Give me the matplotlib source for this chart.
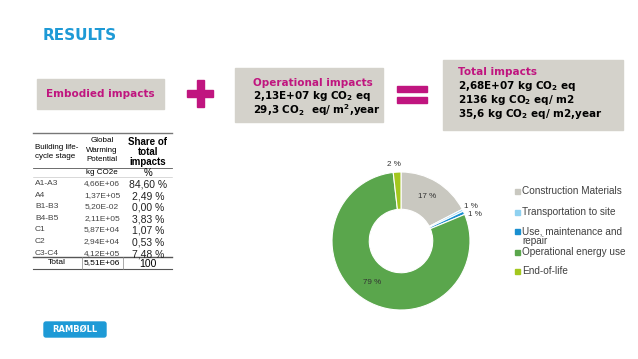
import matplotlib.pyplot as plt
from matplotlib.patches import Rectangle, FancyBboxPatch

# data
slice_names = ["Construction Materials", "Transportation to site",
               "Use, maintenance and\nrepair", "Operational energy use", "End-of-life"]
slice_values = [17.4, 0.5, 0.8, 79.5, 1.8]
slice_labels = ["17 %", "1 %", "1 %", "79 %", "2 %"]
slice_colors = ["#c9c8c0", "#8fd1f0", "#1a8fd0", "#5aa64c", "#a3c71e"]

stages = ["A1-A3", "A4", "B1-B3", "B4-B5", "C1", "C2", "C3-C4"]
gwp = ["4,66E+06", "1,37E+05", "5,20E-02", "2,11E+05", "5,87E+04", "2,94E+04", "4,12E+05"]
share = ["84,60 %", "2,49 %", "0,00 %", "3,83 %", "1,07 %", "0,53 %", "7,48 %"]
total_gwp = "5,51E+06"
total_share = "100"

W, H = 638, 359
MAG = "#c0157f"
BOXC = "#d4d2cb"
BLUE = "#1e9ad6"
tf = ["Liberation Sans", "DejaVu Sans"]

fig = plt.figure(figsize=(W / 100, H / 100), dpi=100)

# donut
cx, cy, r = 401, 241, 69
ax = fig.add_axes([(cx - r) / W, 1 - (cy + r) / H, 2 * r / W, 2 * r / H])
ax.pie(slice_values, colors=slice_colors, startangle=90, counterclock=False,
       wedgeprops=dict(width=0.54, edgecolor="white", linewidth=0.8))
ax.set_xlim(-1, 1)
ax.set_ylim(-1, 1)

bg = fig.add_axes([0, 0, 1, 1])
bg.set_xlim(0, W)
bg.set_ylim(H, 0)
bg.axis("off")

bg.text(43, 35, "RESULTS", color=BLUE, fontsize=11, fontweight="bold", va="center")

# boxes
bg.add_patch(Rectangle((37, 79), 127, 30, color=BOXC))
bg.text(100, 94, "Embodied impacts", color=MAG, fontsize=7.5, fontweight="bold",
        ha="center", va="center")

bx = dict(fontsize=7.5, fontweight="bold", va="center")
bg.add_patch(Rectangle((235, 68), 148, 54, color=BOXC))
bg.text(253, 83, "Operational impacts", color=MAG, **bx)
bg.text(253, 96, r"2,13E+07 kg CO$_\mathbf{2}$ eq", **bx)
bg.text(253, 110, r"29,3 CO$_\mathbf{2}$  eq/ m$^\mathbf{2}$,year", **bx)

bg.add_patch(Rectangle((443, 60), 180, 70, color=BOXC))
bg.text(458, 72, "Total impacts", color=MAG, **bx)
bg.text(458, 86, r"2,68E+07 kg CO$_\mathbf{2}$ eq", **bx)
bg.text(458, 100, r"2136 kg CO$_\mathbf{2}$ eq/ m2", **bx)
bg.text(458, 114, r"35,6 kg CO$_\mathbf{2}$ eq/ m2,year", **bx)

# plus and equals
bg.add_patch(Rectangle((187, 90), 26, 7, color=MAG))
bg.add_patch(Rectangle((196.5, 80), 7, 27, color=MAG))
bg.add_patch(Rectangle((397, 86), 30, 6, color=MAG))
bg.add_patch(Rectangle((397, 97), 30, 6, color=MAG))

# table
bg.plot([33, 172], [133, 133], color="#777777", lw=1)
bg.plot([33, 172], [168, 168], color="#555555", lw=0.6)
bg.plot([33, 172], [177, 177], color="#bbbbbb", lw=0.4)
bg.plot([33, 172], [257, 257], color="#555555", lw=1)
bg.plot([33, 172], [269, 269], color="#555555", lw=0.8)
bg.plot([82, 82], [257, 269], color="#888888", lw=0.5)
bg.plot([123, 123], [257, 269], color="#888888", lw=0.5)
bg.text(35, 152, "Building life-\ncycle stage", family=tf, fontsize=5.8, va="center",
        linespacing=1.5)
bg.text(102, 150, "Global\nWarming\nPotential", family=tf, fontsize=5.8, va="center",
        ha="center", linespacing=1.5)
bg.text(148, 152, "Share of\ntotal\nimpacts", family=tf, fontsize=7, va="center",
        ha="center", fontweight="bold", linespacing=1.05)
bg.text(102, 172, "kg CO2e", family=tf, fontsize=5.8, va="center", ha="center")
bg.text(148, 173, "%", family=tf, fontsize=7, va="center", ha="center")
for i, (s, g, p) in enumerate(zip(stages, gwp, share)):
    y = 183.5 + i * 11.6
    bg.text(35, y, s, family=tf, fontsize=6, va="center", color="#444444")
    bg.text(102, y, g, family=tf, fontsize=6, va="center", ha="center", color="#444444")
    bg.text(148, y + 1, p, family=tf, fontsize=7.5, va="center", ha="center", color="#222222")
bg.text(57, 263, "Total", family=tf, fontsize=6, va="center", ha="center")
bg.text(102, 263, total_gwp, family=tf, fontsize=6, va="center", ha="center")
bg.text(148, 264, total_share, family=tf, fontsize=7.5, va="center", ha="center")

# ramboll logo
bg.add_patch(FancyBboxPatch((44, 322), 62, 15, boxstyle="round,pad=0,rounding_size=2",
                            color=BLUE))
bg.text(75, 329.5, "RAMBØLL", color="white", fontsize=6, fontweight="bold",
        ha="center", va="center")

# donut labels
lf = dict(family=tf, fontsize=5.8, color="#333333", ha="center", va="center")
bg.text(427, 197, slice_labels[0], **lf)
bg.text(471, 206, slice_labels[1], **lf)
bg.text(475, 215, slice_labels[2], **lf)
bg.text(372, 282, slice_labels[3], **lf)
bg.text(394, 165, slice_labels[4], **lf)

# legend
leg_y = [191, 212, 231, 252, 271]
for name, c, y in zip(slice_names, slice_colors, leg_y):
    bg.add_patch(Rectangle((515, y - 2.5), 5, 5, color=c))
    if "\n" in name:
        bg.text(522, y - 5, name, family=tf, fontsize=7.2, color="#404040", va="top",
                linespacing=0.95)
    else:
        bg.text(522, y, name, family=tf, fontsize=7.2, color="#404040", va="center")

fig.savefig("out.png", dpi=100)
